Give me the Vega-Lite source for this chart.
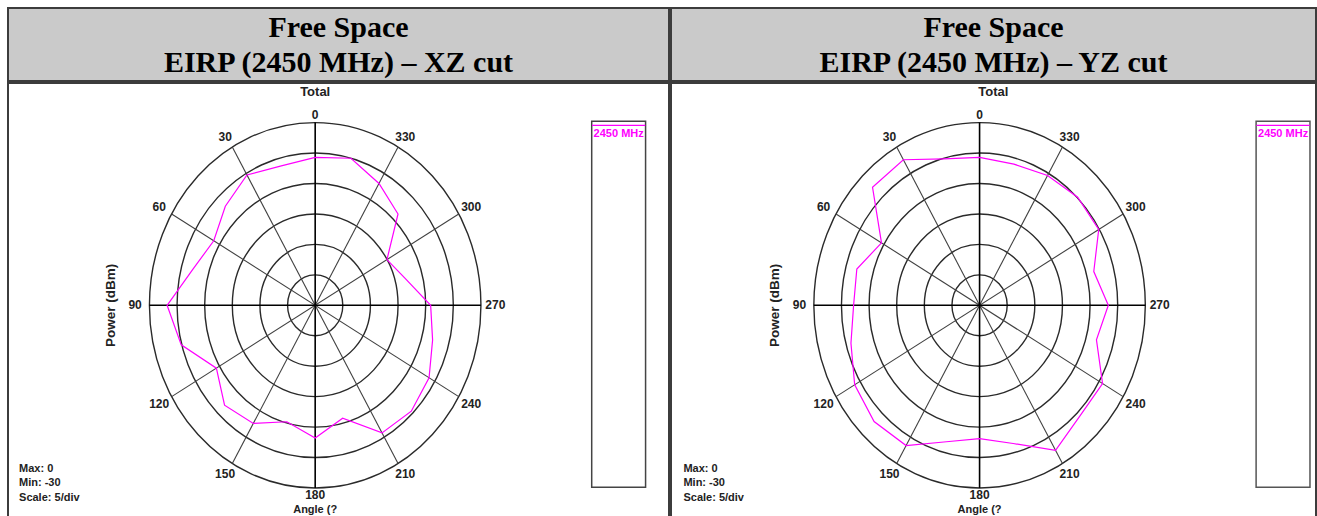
{
  "$schema": "https://vega.github.io/schema/vega-lite/v6.json",
  "padding": {"left": 7, "top": 7, "right": 0, "bottom": 0},
  "background": "white",
  "datasets": {
    "xz": [
      {"angle": 0, "dBm": -5.7}, {"angle": 15, "dBm": -6.3}, {"angle": 30, "dBm": -5.3}, {"angle": 45, "dBm": -7.0},
      {"angle": 60, "dBm": -8.8}, {"angle": 75, "dBm": -7.1}, {"angle": 90, "dBm": -3.2}, {"angle": 105, "dBm": -4.9},
      {"angle": 120, "dBm": -9.35}, {"angle": 135, "dBm": -6.8}, {"angle": 150, "dBm": -7.6}, {"angle": 165, "dBm": -10.2},
      {"angle": 180, "dBm": -8.2}, {"angle": 195, "dBm": -10.8}, {"angle": 210, "dBm": -5.8}, {"angle": 225, "dBm": -5.4},
      {"angle": 240, "dBm": -6.2}, {"angle": 255, "dBm": -8.0}, {"angle": 270, "dBm": -9.1}, {"angle": 285, "dBm": -13.1},
      {"angle": 300, "dBm": -15.0}, {"angle": 315, "dBm": -8.8}, {"angle": 330, "dBm": -6.9}, {"angle": 345, "dBm": -5.0}
    ],
    "yz": [
      {"angle": 0, "dBm": -5.7}, {"angle": 15, "dBm": -5.1}, {"angle": 30, "dBm": -2.4}, {"angle": 45, "dBm": -2.6},
      {"angle": 60, "dBm": -9.5}, {"angle": 75, "dBm": -7.0}, {"angle": 90, "dBm": -7.2}, {"angle": 105, "dBm": -5.9},
      {"angle": 120, "dBm": -3.9}, {"angle": 135, "dBm": -3.0}, {"angle": 150, "dBm": -3.4}, {"angle": 165, "dBm": -6.8},
      {"angle": 180, "dBm": -8.1}, {"angle": 195, "dBm": -6.5}, {"angle": 210, "dBm": -2.5}, {"angle": 225, "dBm": -4.3},
      {"angle": 240, "dBm": -4.3}, {"angle": 255, "dBm": -8.1}, {"angle": 270, "dBm": -6.7}, {"angle": 285, "dBm": -8.6},
      {"angle": 300, "dBm": -5.1}, {"angle": 315, "dBm": -4.9}, {"angle": 330, "dBm": -5.4}, {"angle": 345, "dBm": -6.0}
    ],
    "rings": [{"dBm": -25}, {"dBm": -20}, {"dBm": -15}, {"dBm": -10}, {"dBm": -5}, {"dBm": 0}],
    "majorSpokes": [{"angle": 0}, {"angle": 90}],
    "minorSpokes": [{"angle": 30}, {"angle": 60}, {"angle": 120}, {"angle": 150}],
    "angleLabels": [
      {"angle": 0}, {"angle": 30}, {"angle": 60}, {"angle": 90}, {"angle": 120}, {"angle": 150},
      {"angle": 180}, {"angle": 210}, {"angle": 240}, {"angle": 270}, {"angle": 300}, {"angle": 330}
    ],
    "legend": [{"label": "2450 MHz"}],
    "texts": [{"total": "Total", "ytitle": "Power  (dBm)", "xtitle": "Angle  (?", "info": "Max: 0\nMin: -30\nScale: 5/div"}],
    "headXZ": [{"t": "Free Space\nEIRP (2450 MHz) – XZ cut"}],
    "headYZ": [{"t": "Free Space\nEIRP (2450 MHz) – YZ cut"}]
  },
  "config": {
    "axis": {"disable": true},
    "legend": {"disable": true},
    "view": {"stroke": "#3c3c3c", "strokeWidth": 2},
    "text": {"font": "Liberation Sans"},
    "concat": {"spacing": 0}
  },
  "hconcat": [
    {
      "spacing": 0,
      "vconcat": [
        {
          "width": 661, "height": 73,
          "view": {"fill": "#cacaca", "stroke": "#3c3c3c", "strokeWidth": 2},
          "data": {"name": "headXZ"},
          "mark": {"type": "text", "font": "Liberation Serif", "fontSize": 30, "fontWeight": "bold", "lineBreak": "\n", "lineHeight": 35, "dy": -17, "color": "#000000", "align": "center", "baseline": "middle"},
          "encoding": {"text": {"field": "t", "type": "nominal"}}
        },
        {
          "width": 661, "height": 440,
          "view": {"fill": "white", "stroke": "#3c3c3c", "strokeWidth": 2},
          "layer": [
            {
              "data": {"name": "rings"},
              "transform": [{"calculate": "datum.dBm + 30", "as": "r"}],
              "mark": {"type": "point", "shape": "M -1 0 A 1 1.1023 0 1 0 1 0 A 1 1.1023 0 1 0 -1 0 Z", "filled": false, "stroke": "#2a2a2a", "strokeWidth": 1.4, "opacity": 1},
              "encoding": {
                "x": {"datum": 0, "type": "quantitative", "scale": {"domain": [-55.6, 64.04], "nice": false, "zero": false}},
                "y": {"datum": 0, "type": "quantitative", "scale": {"domain": [-35.75, 36.5], "nice": false, "zero": false}},
                "size": {"field": "r", "type": "quantitative", "scale": {"type": "pow", "exponent": 2, "domain": [0, 30], "range": [0, 109892]}}
              }
            },
            {
              "data": {"name": "minorSpokes"},
              "transform": [
                {"calculate": "-30 * sin(datum.angle * PI / 180)", "as": "x1"},
                {"calculate": "30 * cos(datum.angle * PI / 180)", "as": "y1"},
                {"calculate": "-datum.x1", "as": "x2"},
                {"calculate": "-datum.y1", "as": "y2"}
              ],
              "mark": {"type": "rule", "color": "#404040", "strokeWidth": 1.1},
              "encoding": {
                "x": {"field": "x1", "type": "quantitative"}, "y": {"field": "y1", "type": "quantitative"},
                "x2": {"field": "x2"}, "y2": {"field": "y2"}
              }
            },
            {
              "data": {"name": "majorSpokes"},
              "transform": [
                {"calculate": "-30 * sin(datum.angle * PI / 180)", "as": "x1"},
                {"calculate": "30 * cos(datum.angle * PI / 180)", "as": "y1"},
                {"calculate": "-datum.x1", "as": "x2"},
                {"calculate": "-datum.y1", "as": "y2"}
              ],
              "mark": {"type": "rule", "color": "#000000", "strokeWidth": 1.6},
              "encoding": {
                "x": {"field": "x1", "type": "quantitative"}, "y": {"field": "y1", "type": "quantitative"},
                "x2": {"field": "x2"}, "y2": {"field": "y2"}
              }
            },
            {
              "data": {"name": "xz"},
              "transform": [
                {"calculate": "-(datum.dBm + 30) * sin(datum.angle * PI / 180)", "as": "px"},
                {"calculate": "(datum.dBm + 30) * cos(datum.angle * PI / 180)", "as": "py"}
              ],
              "mark": {"type": "line", "interpolate": "linear-closed", "color": "#ff00ff", "strokeWidth": 1.2},
              "encoding": {
                "x": {"field": "px", "type": "quantitative"}, "y": {"field": "py", "type": "quantitative"},
                "order": {"field": "angle", "type": "quantitative"}
              }
            },
            {
              "data": {"name": "angleLabels"},
              "transform": [
                {"calculate": "-32.6 * sin(datum.angle * PI / 180)", "as": "lx"},
                {"calculate": "(31.2 + 1.4 * abs(sin(datum.angle * PI / 180))) * cos(datum.angle * PI / 180)", "as": "ly"}
              ],
              "mark": {"type": "text", "fontSize": 12, "fontWeight": "bold", "color": "#222222"},
              "encoding": {
                "x": {"field": "lx", "type": "quantitative"}, "y": {"field": "ly", "type": "quantitative"},
                "text": {"field": "angle", "type": "nominal"}
              }
            },
            {
              "data": {"name": "legend"},
              "mark": {"type": "rect", "fill": "white", "stroke": "#444444", "strokeWidth": 1.5},
              "encoding": {
                "x": {"datum": 50.05, "type": "quantitative"}, "x2": {"datum": 59.8},
                "y": {"datum": 30.2, "type": "quantitative"}, "y2": {"datum": -29.9}
              }
            },
            {
              "data": {"name": "legend"},
              "mark": {"type": "rule", "color": "#ff00ff", "strokeWidth": 1.2},
              "encoding": {
                "x": {"datum": 50.1, "type": "quantitative"}, "x2": {"datum": 59.75},
                "y": {"datum": 29.55, "type": "quantitative"}
              }
            },
            {
              "data": {"name": "legend"},
              "mark": {"type": "text", "fontSize": 11, "fontWeight": "bold", "color": "#ff00ff"},
              "encoding": {
                "x": {"datum": 54.93, "type": "quantitative"}, "y": {"datum": 28.1, "type": "quantitative"},
                "text": {"field": "label", "type": "nominal"}
              }
            },
            {
              "data": {"name": "texts"},
              "mark": {"type": "text", "fontSize": 13, "fontWeight": "bold", "color": "#222222"},
              "encoding": {
                "x": {"datum": 0, "type": "quantitative"}, "y": {"datum": 35.0, "type": "quantitative"},
                "text": {"field": "total", "type": "nominal"}
              }
            },
            {
              "data": {"name": "texts"},
              "mark": {"type": "text", "fontSize": 11, "fontWeight": "bold", "color": "#222222"},
              "encoding": {
                "x": {"datum": 0, "type": "quantitative"}, "y": {"datum": -33.6, "type": "quantitative"},
                "text": {"field": "xtitle", "type": "nominal"}
              }
            },
            {
              "data": {"name": "texts"},
              "mark": {"type": "text", "fontSize": 13.5, "fontWeight": "bold", "color": "#222222", "angle": 270},
              "encoding": {
                "x": {"datum": -37.0, "type": "quantitative"}, "y": {"datum": 0, "type": "quantitative"},
                "text": {"field": "ytitle", "type": "nominal"}
              }
            },
            {
              "data": {"name": "texts"},
              "mark": {"type": "text", "fontSize": 11, "fontWeight": "bold", "color": "#222222", "align": "left", "baseline": "top", "lineBreak": "\n", "lineHeight": 14.3},
              "encoding": {
                "x": {"datum": -53.6, "type": "quantitative"}, "y": {"datum": -25.93, "type": "quantitative"},
                "text": {"field": "info", "type": "nominal"}
              }
            }
          ]
        }
      ]
    },
    {
      "spacing": 0,
      "vconcat": [
        {
          "width": 645, "height": 73,
          "view": {"fill": "#cacaca", "stroke": "#3c3c3c", "strokeWidth": 2},
          "data": {"name": "headYZ"},
          "mark": {"type": "text", "font": "Liberation Serif", "fontSize": 30, "fontWeight": "bold", "lineBreak": "\n", "lineHeight": 35, "dy": -17, "color": "#000000", "align": "center", "baseline": "middle"},
          "encoding": {"text": {"field": "t", "type": "nominal"}}
        },
        {
          "width": 645, "height": 440,
          "view": {"fill": "white", "stroke": "#3c3c3c", "strokeWidth": 2},
          "layer": [
            {
              "data": {"name": "rings"},
              "transform": [{"calculate": "datum.dBm + 30", "as": "r"}],
              "mark": {"type": "point", "shape": "M -1 0 A 1 1.1023 0 1 0 1 0 A 1 1.1023 0 1 0 -1 0 Z", "filled": false, "stroke": "#2a2a2a", "strokeWidth": 1.4, "opacity": 1},
              "encoding": {
                "x": {"datum": 0, "type": "quantitative", "scale": {"domain": [-55.85, 60.89], "nice": false, "zero": false}},
                "y": {"datum": 0, "type": "quantitative", "scale": {"domain": [-35.75, 36.5], "nice": false, "zero": false}},
                "size": {"field": "r", "type": "quantitative", "scale": {"type": "pow", "exponent": 2, "domain": [0, 30], "range": [0, 109892]}}
              }
            },
            {
              "data": {"name": "minorSpokes"},
              "transform": [
                {"calculate": "-30 * sin(datum.angle * PI / 180)", "as": "x1"},
                {"calculate": "30 * cos(datum.angle * PI / 180)", "as": "y1"},
                {"calculate": "-datum.x1", "as": "x2"},
                {"calculate": "-datum.y1", "as": "y2"}
              ],
              "mark": {"type": "rule", "color": "#404040", "strokeWidth": 1.1},
              "encoding": {
                "x": {"field": "x1", "type": "quantitative"}, "y": {"field": "y1", "type": "quantitative"},
                "x2": {"field": "x2"}, "y2": {"field": "y2"}
              }
            },
            {
              "data": {"name": "majorSpokes"},
              "transform": [
                {"calculate": "-30 * sin(datum.angle * PI / 180)", "as": "x1"},
                {"calculate": "30 * cos(datum.angle * PI / 180)", "as": "y1"},
                {"calculate": "-datum.x1", "as": "x2"},
                {"calculate": "-datum.y1", "as": "y2"}
              ],
              "mark": {"type": "rule", "color": "#000000", "strokeWidth": 1.6},
              "encoding": {
                "x": {"field": "x1", "type": "quantitative"}, "y": {"field": "y1", "type": "quantitative"},
                "x2": {"field": "x2"}, "y2": {"field": "y2"}
              }
            },
            {
              "data": {"name": "yz"},
              "transform": [
                {"calculate": "-(datum.dBm + 30) * sin(datum.angle * PI / 180)", "as": "px"},
                {"calculate": "(datum.dBm + 30) * cos(datum.angle * PI / 180)", "as": "py"}
              ],
              "mark": {"type": "line", "interpolate": "linear-closed", "color": "#ff00ff", "strokeWidth": 1.2},
              "encoding": {
                "x": {"field": "px", "type": "quantitative"}, "y": {"field": "py", "type": "quantitative"},
                "order": {"field": "angle", "type": "quantitative"}
              }
            },
            {
              "data": {"name": "angleLabels"},
              "transform": [
                {"calculate": "-32.6 * sin(datum.angle * PI / 180)", "as": "lx"},
                {"calculate": "(31.2 + 1.4 * abs(sin(datum.angle * PI / 180))) * cos(datum.angle * PI / 180)", "as": "ly"}
              ],
              "mark": {"type": "text", "fontSize": 12, "fontWeight": "bold", "color": "#222222"},
              "encoding": {
                "x": {"field": "lx", "type": "quantitative"}, "y": {"field": "ly", "type": "quantitative"},
                "text": {"field": "angle", "type": "nominal"}
              }
            },
            {
              "data": {"name": "legend"},
              "mark": {"type": "rect", "fill": "white", "stroke": "#555555", "strokeWidth": 1.5},
              "encoding": {
                "x": {"datum": 50.05, "type": "quantitative"}, "x2": {"datum": 59.8},
                "y": {"datum": 30.2, "type": "quantitative"}, "y2": {"datum": -29.9}
              }
            },
            {
              "data": {"name": "legend"},
              "mark": {"type": "rule", "color": "#ff00ff", "strokeWidth": 1.2},
              "encoding": {
                "x": {"datum": 50.1, "type": "quantitative"}, "x2": {"datum": 59.75},
                "y": {"datum": 29.55, "type": "quantitative"}
              }
            },
            {
              "data": {"name": "legend"},
              "mark": {"type": "text", "fontSize": 11, "fontWeight": "bold", "color": "#ff00ff"},
              "encoding": {
                "x": {"datum": 54.93, "type": "quantitative"}, "y": {"datum": 28.1, "type": "quantitative"},
                "text": {"field": "label", "type": "nominal"}
              }
            },
            {
              "data": {"name": "texts"},
              "mark": {"type": "text", "fontSize": 13, "fontWeight": "bold", "color": "#222222"},
              "encoding": {
                "x": {"datum": 2.5, "type": "quantitative"}, "y": {"datum": 35.0, "type": "quantitative"},
                "text": {"field": "total", "type": "nominal"}
              }
            },
            {
              "data": {"name": "texts"},
              "mark": {"type": "text", "fontSize": 11, "fontWeight": "bold", "color": "#222222"},
              "encoding": {
                "x": {"datum": 0, "type": "quantitative"}, "y": {"datum": -33.6, "type": "quantitative"},
                "text": {"field": "xtitle", "type": "nominal"}
              }
            },
            {
              "data": {"name": "texts"},
              "mark": {"type": "text", "fontSize": 13.5, "fontWeight": "bold", "color": "#222222", "angle": 270},
              "encoding": {
                "x": {"datum": -37.1, "type": "quantitative"}, "y": {"datum": 0, "type": "quantitative"},
                "text": {"field": "ytitle", "type": "nominal"}
              }
            },
            {
              "data": {"name": "texts"},
              "mark": {"type": "text", "fontSize": 11, "fontWeight": "bold", "color": "#222222", "align": "left", "baseline": "top", "lineBreak": "\n", "lineHeight": 14.3},
              "encoding": {
                "x": {"datum": -53.6, "type": "quantitative"}, "y": {"datum": -25.93, "type": "quantitative"},
                "text": {"field": "info", "type": "nominal"}
              }
            }
          ]
        }
      ]
    }
  ]
}
